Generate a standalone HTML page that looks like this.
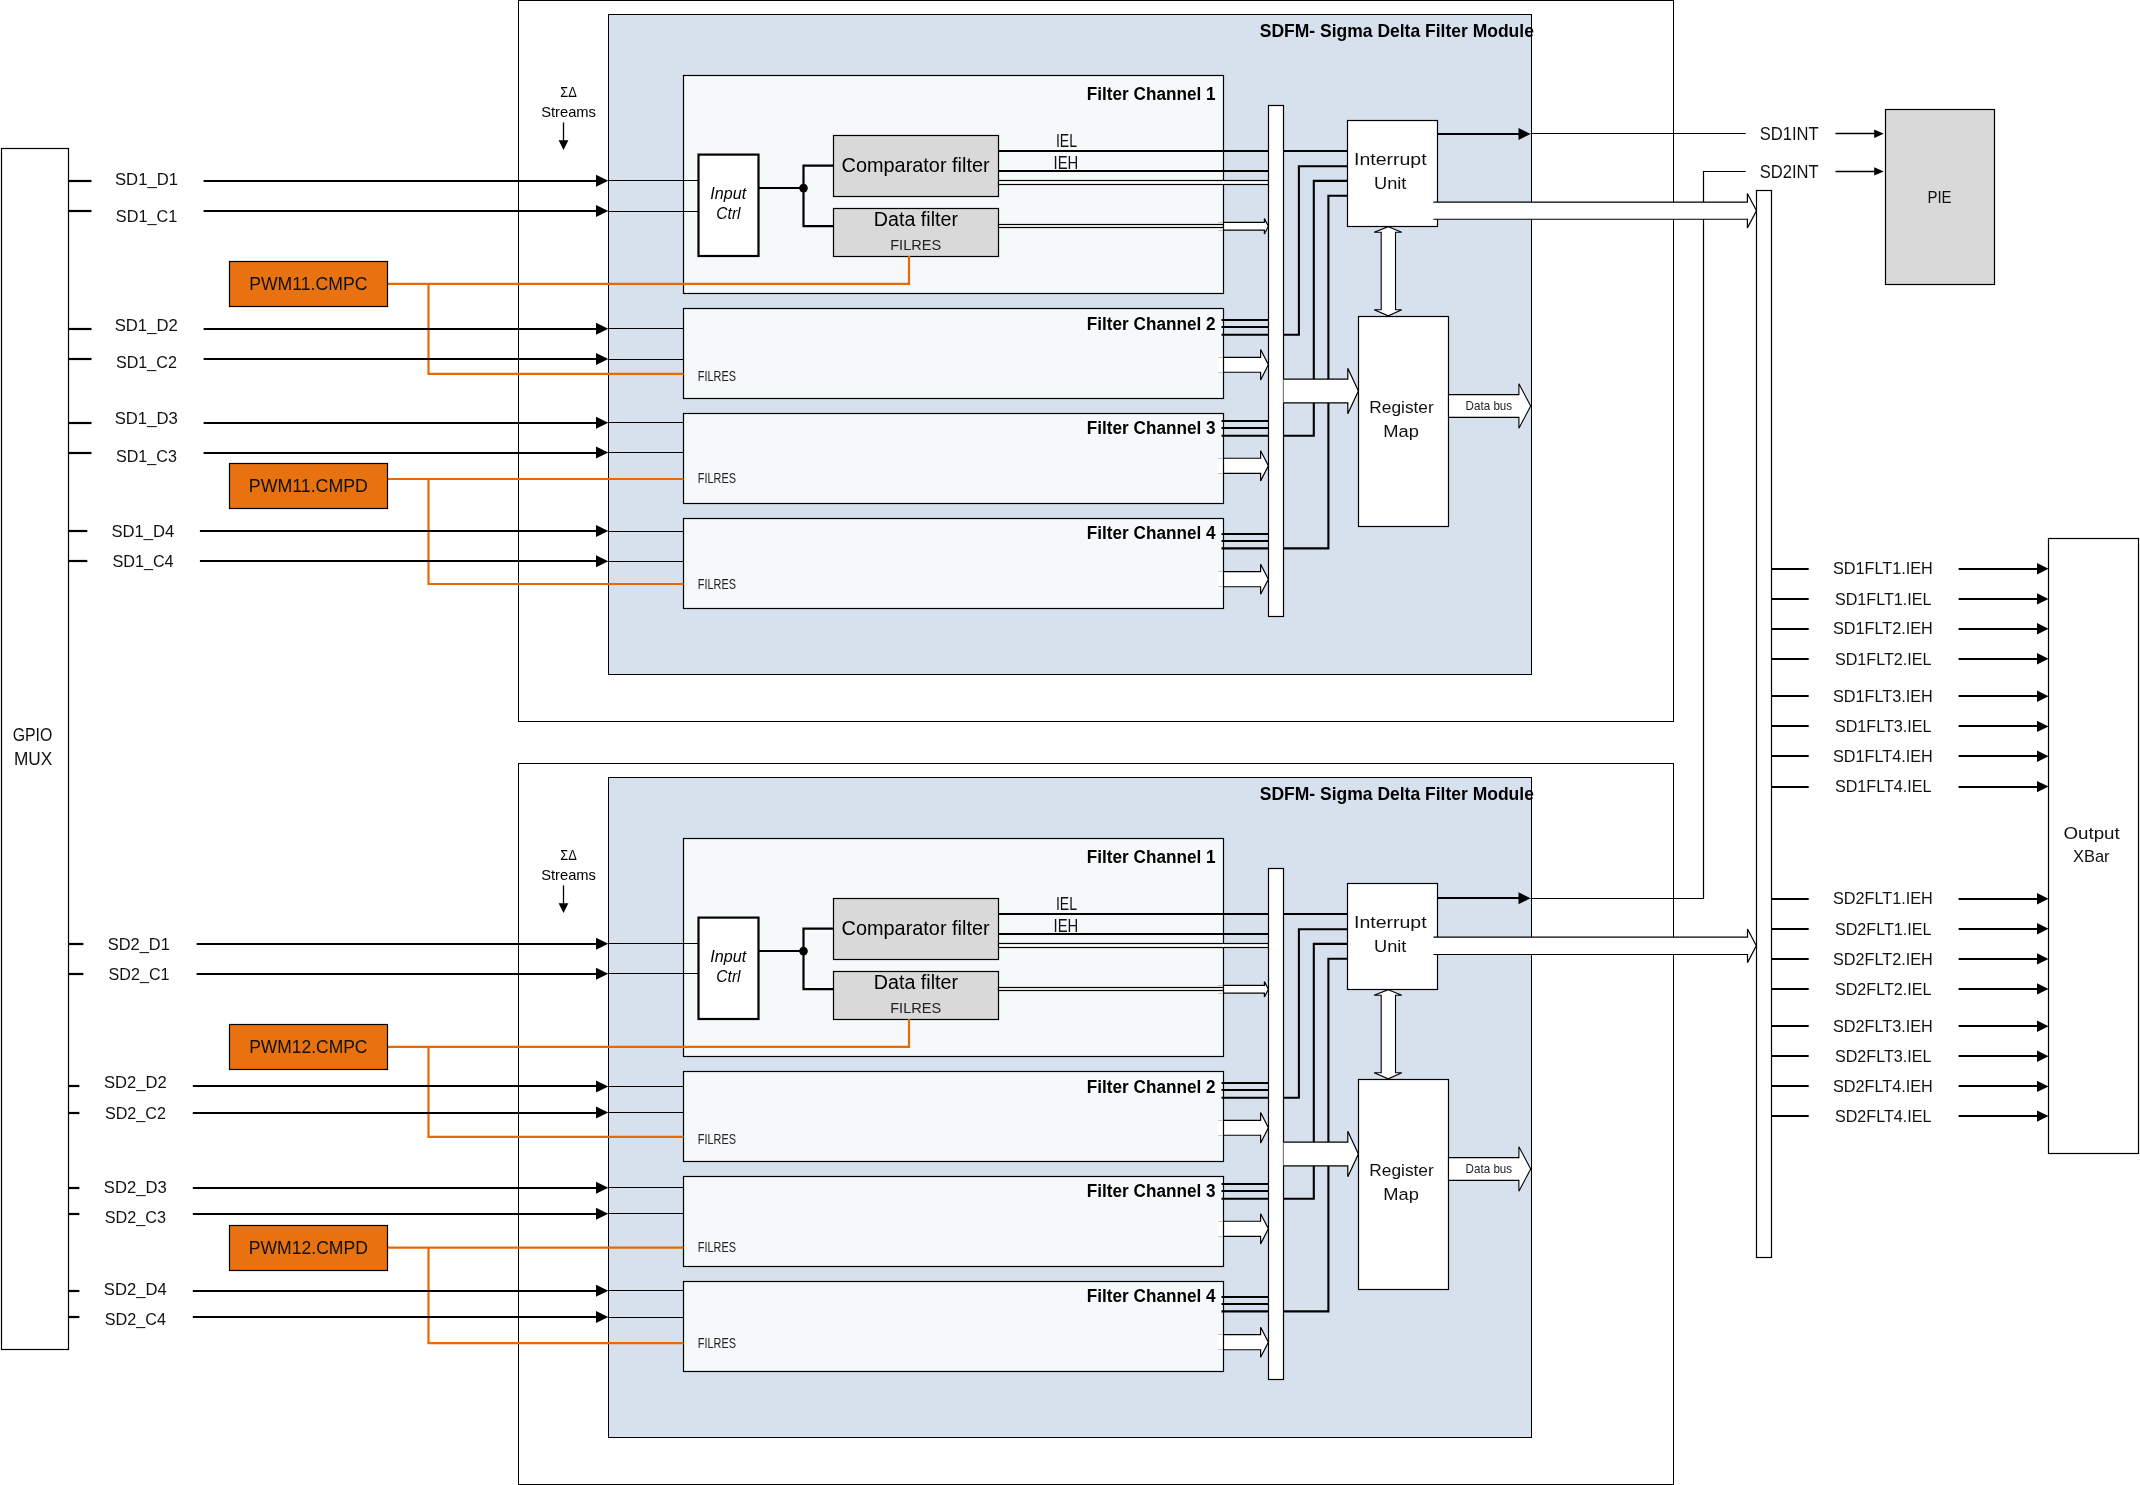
<!DOCTYPE html>
<html><head><meta charset="utf-8"><style>
html,body{margin:0;padding:0;background:#fff;}
svg{display:block;font-family:"Liberation Sans",sans-serif;will-change:transform;}
</style></head><body>
<svg width="2140" height="1485" viewBox="0 0 2140 1485">
<rect x="0" y="0" width="2140" height="1485" fill="#fff"/>
<rect x="518.5" y="0.5" width="1155" height="721" fill="none" stroke="#000" stroke-width="1"/>
<rect x="608.5" y="14.5" width="923" height="660" fill="#D6E1ED" stroke="#000" stroke-width="1"/>
<text transform="translate(1259.8 37) scale(0.9291 1)" font-size="18.84" font-weight="bold" fill="#000">SDFM- Sigma Delta Filter Module</text>
<text transform="translate(560.3 96.7) scale(0.9229 1)" font-size="13.91" fill="#000">ΣΔ</text>
<text transform="translate(541.2 117) scale(0.9952 1)" font-size="14.78" fill="#000">Streams</text>
<line x1="563.5" y1="122.4" x2="563.5" y2="141" stroke="#000" stroke-width="1.3"/>
<polygon points="558.6,140.2 568.4,140.2 563.5,150" fill="#000" stroke="none" stroke-width="1"/>
<rect x="683.5" y="75.5" width="540" height="218" fill="#F5F9FA" stroke="none" stroke-width="1"/>
<rect x="683.5" y="308.5" width="540" height="90" fill="#F5F9FA" stroke="none" stroke-width="1"/>
<rect x="683.5" y="413.5" width="540" height="90" fill="#F5F9FA" stroke="none" stroke-width="1"/>
<rect x="683.5" y="518.5" width="540" height="90" fill="#F5F9FA" stroke="none" stroke-width="1"/>
<rect x="698.5" y="154.6" width="60" height="101.4" fill="#fff" stroke="#000" stroke-width="2.2"/>
<text transform="translate(710.3 199.2) scale(1.0103 1)" font-size="15.94" font-style="italic" fill="#000">Input</text>
<text transform="translate(716.3 219.2) scale(0.9806 1)" font-size="15.94" font-style="italic" fill="#000">Ctrl</text>
<line x1="758.5" y1="188" x2="803.5" y2="188" stroke="#000" stroke-width="2.2"/>
<polyline points="833.5,165.7 803.5,165.7 803.5,226.2 833.5,226.2" fill="none" stroke="#000" stroke-width="2.2"/>
<circle cx="803.5" cy="188.1" r="4.3" fill="#000"/>
<rect x="833.5" y="135.5" width="165" height="61" fill="#D9D9D9" stroke="#000" stroke-width="1.2"/>
<text transform="translate(841.6 171.7) scale(0.9940 1)" font-size="20" fill="#000">Comparator filter</text>
<rect x="833.5" y="208.5" width="165" height="48" fill="#D9D9D9" stroke="#000" stroke-width="1.2"/>
<text transform="translate(873.8 226.2) scale(0.9981 1)" font-size="19.71" fill="#000">Data filter</text>
<text transform="translate(890.2 250) scale(0.9668 1)" font-size="15.07" fill="#222">FILRES</text>
<line x1="998.5" y1="151" x2="1347.5" y2="151" stroke="#000" stroke-width="2.1"/>
<text transform="translate(1055.9 147) scale(0.7827 1)" font-size="17.97" fill="#111">IEL</text>
<line x1="998.5" y1="171" x2="1268.4" y2="171" stroke="#000" stroke-width="2"/>
<text transform="translate(1053.6 169.3) scale(0.8255 1)" font-size="17.97" fill="#111">IEH</text>
<rect x="998.5" y="180.5" width="270" height="4" fill="#fff" stroke="#000" stroke-width="1.2"/>
<rect x="998.5" y="224.5" width="225" height="3" fill="#fff" stroke="#000" stroke-width="1.2"/>
<polygon points="1223.5,222.45 1264.4,222.45 1264.4,218.65 1268.4,226.3 1264.4,233.95 1264.4,230.15 1223.5,230.15" fill="#fff" stroke="none" stroke-width="1"/>
<polyline points="1223.5,222.45 1264.4,222.45 1264.4,218.65 1268.4,226.3 1264.4,233.95 1264.4,230.15 1223.5,230.15" fill="none" stroke="#000" stroke-width="1.2"/>
<line x1="1218" y1="222.5" x2="1223" y2="222.5" stroke="#C8C8C8" stroke-width="1"/>
<line x1="1218" y1="230.5" x2="1223" y2="230.5" stroke="#C8C8C8" stroke-width="1"/>
<polygon points="1223.5,357.35 1260.6,357.35 1260.6,349.55 1268.4,364.8 1260.6,380.05 1260.6,372.25 1223.5,372.25" fill="#fff" stroke="none" stroke-width="1"/>
<polyline points="1223.5,357.35 1260.6,357.35 1260.6,349.55 1268.4,364.8 1260.6,380.05 1260.6,372.25 1223.5,372.25" fill="none" stroke="#000" stroke-width="1.2"/>
<rect x="1218" y="357.35" width="5.5" height="14.9" fill="#fff" stroke="none" stroke-width="0"/>
<line x1="1218" y1="357.5" x2="1223" y2="357.5" stroke="#C8C8C8" stroke-width="1"/>
<line x1="1218" y1="372.5" x2="1223" y2="372.5" stroke="#C8C8C8" stroke-width="1"/>
<polygon points="1223.5,458.25 1260.6,458.25 1260.6,450.7 1268.4,465.8 1260.6,480.9 1260.6,473.35 1223.5,473.35" fill="#fff" stroke="none" stroke-width="1"/>
<polyline points="1223.5,458.25 1260.6,458.25 1260.6,450.7 1268.4,465.8 1260.6,480.9 1260.6,473.35 1223.5,473.35" fill="none" stroke="#000" stroke-width="1.2"/>
<rect x="1218" y="458.25" width="5.5" height="15.1" fill="#fff" stroke="none" stroke-width="0"/>
<line x1="1218" y1="458.5" x2="1223" y2="458.5" stroke="#C8C8C8" stroke-width="1"/>
<line x1="1218" y1="473.5" x2="1223" y2="473.5" stroke="#C8C8C8" stroke-width="1"/>
<polygon points="1223.5,571.65 1260.6,571.65 1260.6,564.2 1268.4,579.2 1260.6,594.2 1260.6,586.75 1223.5,586.75" fill="#fff" stroke="none" stroke-width="1"/>
<polyline points="1223.5,571.65 1260.6,571.65 1260.6,564.2 1268.4,579.2 1260.6,594.2 1260.6,586.75 1223.5,586.75" fill="none" stroke="#000" stroke-width="1.2"/>
<rect x="1218" y="571.65" width="5.5" height="15.1" fill="#fff" stroke="none" stroke-width="0"/>
<line x1="1218" y1="571.5" x2="1223" y2="571.5" stroke="#C8C8C8" stroke-width="1"/>
<line x1="1218" y1="586.5" x2="1223" y2="586.5" stroke="#C8C8C8" stroke-width="1"/>
<line x1="1221.5" y1="320" x2="1268.4" y2="320" stroke="#000" stroke-width="2.1"/>
<line x1="1221.5" y1="327" x2="1268.4" y2="327" stroke="#000" stroke-width="2.1"/>
<polyline points="1221.5,334.7 1298.9,334.7 1298.9,166.3 1347.5,166.3" fill="none" stroke="#000" stroke-width="2.1"/>
<line x1="1221.5" y1="421" x2="1268.4" y2="421" stroke="#000" stroke-width="2.1"/>
<line x1="1221.5" y1="428" x2="1268.4" y2="428" stroke="#000" stroke-width="2.1"/>
<polyline points="1221.5,435.8 1313.8,435.8 1313.8,180.9 1347.5,180.9" fill="none" stroke="#000" stroke-width="2.1"/>
<line x1="1221.5" y1="534" x2="1268.4" y2="534" stroke="#000" stroke-width="2.1"/>
<line x1="1221.5" y1="541" x2="1268.4" y2="541" stroke="#000" stroke-width="2.1"/>
<polyline points="1221.5,548.4 1328.4,548.4 1328.4,195.7 1347.5,195.7" fill="none" stroke="#000" stroke-width="2.1"/>
<rect x="683.5" y="75.5" width="540" height="218" fill="none" stroke="#000" stroke-width="1.2"/>
<rect x="683.5" y="308.5" width="540" height="90" fill="none" stroke="#000" stroke-width="1.2"/>
<rect x="683.5" y="413.5" width="540" height="90" fill="none" stroke="#000" stroke-width="1.2"/>
<rect x="683.5" y="518.5" width="540" height="90" fill="none" stroke="#000" stroke-width="1.2"/>
<rect x="1222.5" y="181" width="2" height="3" fill="#fff" stroke="none" stroke-width="0"/>
<text transform="translate(1086.8 100.2) scale(0.9404 1)" font-size="18.26" font-weight="bold" fill="#000">Filter Channel 1</text>
<text transform="translate(1086.8 329.7) scale(0.9404 1)" font-size="18.26" font-weight="bold" fill="#000">Filter Channel 2</text>
<text transform="translate(1086.8 434) scale(0.9404 1)" font-size="18.26" font-weight="bold" fill="#000">Filter Channel 3</text>
<text transform="translate(1086.8 539.3) scale(0.9404 1)" font-size="18.26" font-weight="bold" fill="#000">Filter Channel 4</text>
<text transform="translate(697.8 380.9) scale(0.7685 1)" font-size="14.2" fill="#222">FILRES</text>
<text transform="translate(697.8 482.9) scale(0.7685 1)" font-size="14.2" fill="#222">FILRES</text>
<text transform="translate(697.8 589.4) scale(0.7685 1)" font-size="14.2" fill="#222">FILRES</text>
<polyline points="387.6,283.9 909,283.9 909,256.1" fill="none" stroke="#E96800" stroke-width="2.2"/>
<polyline points="428.5,283.9 428.5,373.8 683.5,373.8" fill="none" stroke="#E96800" stroke-width="2.2"/>
<polyline points="387.6,479 683.5,479" fill="none" stroke="#E96800" stroke-width="2.2"/>
<polyline points="428.5,479 428.5,584 683.5,584" fill="none" stroke="#E96800" stroke-width="2.2"/>
<rect x="1268.5" y="105.5" width="15" height="511" fill="#fff" stroke="#000" stroke-width="1.2"/>
<rect x="1347.5" y="120.5" width="90" height="106" fill="#fff" stroke="#000" stroke-width="1.2"/>
<text transform="translate(1354 165.4) scale(1.1222 1)" font-size="17.39" fill="#111">Interrupt</text>
<text transform="translate(1374 189) scale(1.0499 1)" font-size="17.39" fill="#111">Unit</text>
<line x1="1437.6" y1="134" x2="1519.5" y2="134" stroke="#000" stroke-width="2.2"/>
<polygon points="1518.5,128.1 1530.5,134.1 1518.5,140.1" fill="#000" stroke="none" stroke-width="1"/>
<polygon points="1388.3,226.7 1401.8,232.3 1395.5,232.3 1395.5,309.7 1401.8,309.7 1388.3,315.8 1374.1,309.7 1381.2,309.7 1381.2,232.3 1374.1,232.3" fill="#fff" stroke="#000" stroke-width="1.1"/>
<polygon points="1283.5,379.1 1347.8,379.1 1347.8,368.3 1358.4,391 1347.8,413.7 1347.8,402.9 1283.5,402.9" fill="#fff" stroke="none" stroke-width="1"/>
<polyline points="1283.5,379.1 1347.8,379.1 1347.8,368.3 1358.4,391 1347.8,413.7 1347.8,402.9 1283.5,402.9" fill="none" stroke="#000" stroke-width="1.2"/>
<rect x="1358.5" y="316.5" width="90" height="210" fill="#fff" stroke="#000" stroke-width="1.2"/>
<text transform="translate(1369.3 412.9) scale(0.9956 1)" font-size="17.39" fill="#111">Register</text>
<text transform="translate(1383.3 437.1) scale(1.0524 1)" font-size="17.39" fill="#111">Map</text>
<polygon points="1448.5,394.6 1518.9,394.6 1518.9,383.8 1530.7,406 1518.9,428.2 1518.9,417.4 1448.5,417.4" fill="#fff" stroke="#000" stroke-width="1.1"/>
<text transform="translate(1465.6 410) scale(0.9335 1)" font-size="12.46" fill="#222">Data bus</text>
<rect x="518.5" y="763.5" width="1155" height="721" fill="none" stroke="#000" stroke-width="1"/>
<rect x="608.5" y="777.5" width="923" height="660" fill="#D6E1ED" stroke="#000" stroke-width="1"/>
<text transform="translate(1259.8 800) scale(0.9291 1)" font-size="18.84" font-weight="bold" fill="#000">SDFM- Sigma Delta Filter Module</text>
<text transform="translate(560.3 859.7) scale(0.9229 1)" font-size="13.91" fill="#000">ΣΔ</text>
<text transform="translate(541.2 880) scale(0.9952 1)" font-size="14.78" fill="#000">Streams</text>
<line x1="563.5" y1="885.4" x2="563.5" y2="904" stroke="#000" stroke-width="1.3"/>
<polygon points="558.6,903.2 568.4,903.2 563.5,913" fill="#000" stroke="none" stroke-width="1"/>
<rect x="683.5" y="838.5" width="540" height="218" fill="#F5F9FA" stroke="none" stroke-width="1"/>
<rect x="683.5" y="1071.5" width="540" height="90" fill="#F5F9FA" stroke="none" stroke-width="1"/>
<rect x="683.5" y="1176.5" width="540" height="90" fill="#F5F9FA" stroke="none" stroke-width="1"/>
<rect x="683.5" y="1281.5" width="540" height="90" fill="#F5F9FA" stroke="none" stroke-width="1"/>
<rect x="698.5" y="917.6" width="60" height="101.4" fill="#fff" stroke="#000" stroke-width="2.2"/>
<text transform="translate(710.3 962.2) scale(1.0103 1)" font-size="15.94" font-style="italic" fill="#000">Input</text>
<text transform="translate(716.3 982.2) scale(0.9806 1)" font-size="15.94" font-style="italic" fill="#000">Ctrl</text>
<line x1="758.5" y1="951" x2="803.5" y2="951" stroke="#000" stroke-width="2.2"/>
<polyline points="833.5,928.7 803.5,928.7 803.5,989.2 833.5,989.2" fill="none" stroke="#000" stroke-width="2.2"/>
<circle cx="803.5" cy="951.1" r="4.3" fill="#000"/>
<rect x="833.5" y="898.5" width="165" height="61" fill="#D9D9D9" stroke="#000" stroke-width="1.2"/>
<text transform="translate(841.6 934.7) scale(0.9940 1)" font-size="20" fill="#000">Comparator filter</text>
<rect x="833.5" y="971.5" width="165" height="48" fill="#D9D9D9" stroke="#000" stroke-width="1.2"/>
<text transform="translate(873.8 989.2) scale(0.9981 1)" font-size="19.71" fill="#000">Data filter</text>
<text transform="translate(890.2 1013) scale(0.9668 1)" font-size="15.07" fill="#222">FILRES</text>
<line x1="998.5" y1="914" x2="1347.5" y2="914" stroke="#000" stroke-width="2.1"/>
<text transform="translate(1055.9 910) scale(0.7827 1)" font-size="17.97" fill="#111">IEL</text>
<line x1="998.5" y1="934" x2="1268.4" y2="934" stroke="#000" stroke-width="2"/>
<text transform="translate(1053.6 932.3) scale(0.8255 1)" font-size="17.97" fill="#111">IEH</text>
<rect x="998.5" y="943.5" width="270" height="4" fill="#fff" stroke="#000" stroke-width="1.2"/>
<rect x="998.5" y="987.5" width="225" height="3" fill="#fff" stroke="#000" stroke-width="1.2"/>
<polygon points="1223.5,985.45 1264.4,985.45 1264.4,981.65 1268.4,989.3 1264.4,996.95 1264.4,993.15 1223.5,993.15" fill="#fff" stroke="none" stroke-width="1"/>
<polyline points="1223.5,985.45 1264.4,985.45 1264.4,981.65 1268.4,989.3 1264.4,996.95 1264.4,993.15 1223.5,993.15" fill="none" stroke="#000" stroke-width="1.2"/>
<line x1="1218" y1="985.5" x2="1223" y2="985.5" stroke="#C8C8C8" stroke-width="1"/>
<line x1="1218" y1="993.5" x2="1223" y2="993.5" stroke="#C8C8C8" stroke-width="1"/>
<polygon points="1223.5,1120.35 1260.6,1120.35 1260.6,1112.55 1268.4,1127.8 1260.6,1143.05 1260.6,1135.25 1223.5,1135.25" fill="#fff" stroke="none" stroke-width="1"/>
<polyline points="1223.5,1120.35 1260.6,1120.35 1260.6,1112.55 1268.4,1127.8 1260.6,1143.05 1260.6,1135.25 1223.5,1135.25" fill="none" stroke="#000" stroke-width="1.2"/>
<rect x="1218" y="1120.35" width="5.5" height="14.9" fill="#fff" stroke="none" stroke-width="0"/>
<line x1="1218" y1="1120.5" x2="1223" y2="1120.5" stroke="#C8C8C8" stroke-width="1"/>
<line x1="1218" y1="1135.5" x2="1223" y2="1135.5" stroke="#C8C8C8" stroke-width="1"/>
<polygon points="1223.5,1221.25 1260.6,1221.25 1260.6,1213.7 1268.4,1228.8 1260.6,1243.9 1260.6,1236.35 1223.5,1236.35" fill="#fff" stroke="none" stroke-width="1"/>
<polyline points="1223.5,1221.25 1260.6,1221.25 1260.6,1213.7 1268.4,1228.8 1260.6,1243.9 1260.6,1236.35 1223.5,1236.35" fill="none" stroke="#000" stroke-width="1.2"/>
<rect x="1218" y="1221.25" width="5.5" height="15.1" fill="#fff" stroke="none" stroke-width="0"/>
<line x1="1218" y1="1221.5" x2="1223" y2="1221.5" stroke="#C8C8C8" stroke-width="1"/>
<line x1="1218" y1="1236.5" x2="1223" y2="1236.5" stroke="#C8C8C8" stroke-width="1"/>
<polygon points="1223.5,1334.65 1260.6,1334.65 1260.6,1327.2 1268.4,1342.2 1260.6,1357.2 1260.6,1349.75 1223.5,1349.75" fill="#fff" stroke="none" stroke-width="1"/>
<polyline points="1223.5,1334.65 1260.6,1334.65 1260.6,1327.2 1268.4,1342.2 1260.6,1357.2 1260.6,1349.75 1223.5,1349.75" fill="none" stroke="#000" stroke-width="1.2"/>
<rect x="1218" y="1334.65" width="5.5" height="15.1" fill="#fff" stroke="none" stroke-width="0"/>
<line x1="1218" y1="1334.5" x2="1223" y2="1334.5" stroke="#C8C8C8" stroke-width="1"/>
<line x1="1218" y1="1349.5" x2="1223" y2="1349.5" stroke="#C8C8C8" stroke-width="1"/>
<line x1="1221.5" y1="1083" x2="1268.4" y2="1083" stroke="#000" stroke-width="2.1"/>
<line x1="1221.5" y1="1090" x2="1268.4" y2="1090" stroke="#000" stroke-width="2.1"/>
<polyline points="1221.5,1097.7 1298.9,1097.7 1298.9,929.3 1347.5,929.3" fill="none" stroke="#000" stroke-width="2.1"/>
<line x1="1221.5" y1="1184" x2="1268.4" y2="1184" stroke="#000" stroke-width="2.1"/>
<line x1="1221.5" y1="1191" x2="1268.4" y2="1191" stroke="#000" stroke-width="2.1"/>
<polyline points="1221.5,1198.8 1313.8,1198.8 1313.8,943.9 1347.5,943.9" fill="none" stroke="#000" stroke-width="2.1"/>
<line x1="1221.5" y1="1297" x2="1268.4" y2="1297" stroke="#000" stroke-width="2.1"/>
<line x1="1221.5" y1="1304" x2="1268.4" y2="1304" stroke="#000" stroke-width="2.1"/>
<polyline points="1221.5,1311.4 1328.4,1311.4 1328.4,958.7 1347.5,958.7" fill="none" stroke="#000" stroke-width="2.1"/>
<rect x="683.5" y="838.5" width="540" height="218" fill="none" stroke="#000" stroke-width="1.2"/>
<rect x="683.5" y="1071.5" width="540" height="90" fill="none" stroke="#000" stroke-width="1.2"/>
<rect x="683.5" y="1176.5" width="540" height="90" fill="none" stroke="#000" stroke-width="1.2"/>
<rect x="683.5" y="1281.5" width="540" height="90" fill="none" stroke="#000" stroke-width="1.2"/>
<rect x="1222.5" y="944" width="2" height="3" fill="#fff" stroke="none" stroke-width="0"/>
<text transform="translate(1086.8 863.2) scale(0.9404 1)" font-size="18.26" font-weight="bold" fill="#000">Filter Channel 1</text>
<text transform="translate(1086.8 1092.7) scale(0.9404 1)" font-size="18.26" font-weight="bold" fill="#000">Filter Channel 2</text>
<text transform="translate(1086.8 1197) scale(0.9404 1)" font-size="18.26" font-weight="bold" fill="#000">Filter Channel 3</text>
<text transform="translate(1086.8 1302.3) scale(0.9404 1)" font-size="18.26" font-weight="bold" fill="#000">Filter Channel 4</text>
<text transform="translate(697.8 1144) scale(0.7685 1)" font-size="14.2" fill="#222">FILRES</text>
<text transform="translate(697.8 1252.1) scale(0.7685 1)" font-size="14.2" fill="#222">FILRES</text>
<text transform="translate(697.8 1348.4) scale(0.7685 1)" font-size="14.2" fill="#222">FILRES</text>
<polyline points="387.6,1046.9 909,1046.9 909,1019.1" fill="none" stroke="#E96800" stroke-width="2.2"/>
<polyline points="428.5,1046.9 428.5,1136.9 683.5,1136.9" fill="none" stroke="#E96800" stroke-width="2.2"/>
<polyline points="387.6,1247.6 683.5,1247.6" fill="none" stroke="#E96800" stroke-width="2.2"/>
<polyline points="428.5,1247.6 428.5,1343.2 683.5,1343.2" fill="none" stroke="#E96800" stroke-width="2.2"/>
<rect x="1268.5" y="868.5" width="15" height="511" fill="#fff" stroke="#000" stroke-width="1.2"/>
<rect x="1347.5" y="883.5" width="90" height="106" fill="#fff" stroke="#000" stroke-width="1.2"/>
<text transform="translate(1354 928.4) scale(1.1222 1)" font-size="17.39" fill="#111">Interrupt</text>
<text transform="translate(1374 952) scale(1.0499 1)" font-size="17.39" fill="#111">Unit</text>
<line x1="1437.6" y1="898" x2="1519.5" y2="898" stroke="#000" stroke-width="2.2"/>
<polygon points="1518.5,892.3 1530.5,898.3 1518.5,904.3" fill="#000" stroke="none" stroke-width="1"/>
<polygon points="1388.3,989.7 1401.8,995.3 1395.5,995.3 1395.5,1072.7 1401.8,1072.7 1388.3,1078.8 1374.1,1072.7 1381.2,1072.7 1381.2,995.3 1374.1,995.3" fill="#fff" stroke="#000" stroke-width="1.1"/>
<polygon points="1283.5,1142.1 1347.8,1142.1 1347.8,1131.3 1358.4,1154 1347.8,1176.7 1347.8,1165.9 1283.5,1165.9" fill="#fff" stroke="none" stroke-width="1"/>
<polyline points="1283.5,1142.1 1347.8,1142.1 1347.8,1131.3 1358.4,1154 1347.8,1176.7 1347.8,1165.9 1283.5,1165.9" fill="none" stroke="#000" stroke-width="1.2"/>
<rect x="1358.5" y="1079.5" width="90" height="210" fill="#fff" stroke="#000" stroke-width="1.2"/>
<text transform="translate(1369.3 1175.9) scale(0.9956 1)" font-size="17.39" fill="#111">Register</text>
<text transform="translate(1383.3 1200.1) scale(1.0524 1)" font-size="17.39" fill="#111">Map</text>
<polygon points="1448.5,1157.6 1518.9,1157.6 1518.9,1146.8 1530.7,1169 1518.9,1191.2 1518.9,1180.4 1448.5,1180.4" fill="#fff" stroke="#000" stroke-width="1.1"/>
<text transform="translate(1465.6 1173) scale(0.9335 1)" font-size="12.46" fill="#222">Data bus</text>
<rect x="1.5" y="148.5" width="67" height="1201" fill="#fff" stroke="#000" stroke-width="1.2"/>
<text transform="translate(12.7 740.9) scale(0.8814 1)" font-size="17.97" fill="#111">GPIO</text>
<text transform="translate(13.9 764.8) scale(0.9600 1)" font-size="17.97" fill="#111">MUX</text>
<line x1="68.5" y1="181" x2="91.5" y2="181" stroke="#000" stroke-width="2.2"/>
<text transform="translate(115 184.7) scale(0.9583 1)" font-size="17.39" fill="#111">SD1_D1</text>
<line x1="203.6" y1="181" x2="597" y2="181" stroke="#000" stroke-width="2.2"/>
<polygon points="596,174.7 608.3,180.7 596,186.7" fill="#000" stroke="none" stroke-width="1"/>
<line x1="608.3" y1="180.5" x2="698.5" y2="180.5" stroke="#000" stroke-width="1.1"/>
<line x1="68.5" y1="211" x2="91.5" y2="211" stroke="#000" stroke-width="2.2"/>
<text transform="translate(115.8 222.1) scale(0.9355 1)" font-size="17.39" fill="#111">SD1_C1</text>
<line x1="203.6" y1="211" x2="597" y2="211" stroke="#000" stroke-width="2.2"/>
<polygon points="596,205 608.3,211 596,217" fill="#000" stroke="none" stroke-width="1"/>
<line x1="608.3" y1="211.5" x2="698.5" y2="211.5" stroke="#000" stroke-width="1.1"/>
<line x1="68.5" y1="329" x2="91.5" y2="329" stroke="#000" stroke-width="2.2"/>
<text transform="translate(114.7 330.5) scale(0.9599 1)" font-size="17.39" fill="#111">SD1_D2</text>
<line x1="203.6" y1="329" x2="597" y2="329" stroke="#000" stroke-width="2.2"/>
<polygon points="596,322.7 608.3,328.7 596,334.7" fill="#000" stroke="none" stroke-width="1"/>
<line x1="608.3" y1="328.5" x2="683.5" y2="328.5" stroke="#000" stroke-width="1.1"/>
<line x1="68.5" y1="359" x2="91.5" y2="359" stroke="#000" stroke-width="2.2"/>
<text transform="translate(116 367.9) scale(0.9264 1)" font-size="17.39" fill="#111">SD1_C2</text>
<line x1="203.6" y1="359" x2="597" y2="359" stroke="#000" stroke-width="2.2"/>
<polygon points="596,353 608.3,359 596,365" fill="#000" stroke="none" stroke-width="1"/>
<line x1="608.3" y1="359.5" x2="683.5" y2="359.5" stroke="#000" stroke-width="1.1"/>
<line x1="68.5" y1="423" x2="91.5" y2="423" stroke="#000" stroke-width="2.2"/>
<text transform="translate(114.7 424.4) scale(0.9599 1)" font-size="17.39" fill="#111">SD1_D3</text>
<line x1="203.6" y1="423" x2="597" y2="423" stroke="#000" stroke-width="2.2"/>
<polygon points="596,416.7 608.3,422.7 596,428.7" fill="#000" stroke="none" stroke-width="1"/>
<line x1="608.3" y1="422.5" x2="683.5" y2="422.5" stroke="#000" stroke-width="1.1"/>
<line x1="68.5" y1="453" x2="91.5" y2="453" stroke="#000" stroke-width="2.2"/>
<text transform="translate(116 461.7) scale(0.9264 1)" font-size="17.39" fill="#111">SD1_C3</text>
<line x1="203.6" y1="453" x2="597" y2="453" stroke="#000" stroke-width="2.2"/>
<polygon points="596,446.6 608.3,452.6 596,458.6" fill="#000" stroke="none" stroke-width="1"/>
<line x1="608.3" y1="452.5" x2="683.5" y2="452.5" stroke="#000" stroke-width="1.1"/>
<line x1="68.5" y1="531" x2="87.3" y2="531" stroke="#000" stroke-width="2.2"/>
<text transform="translate(111.5 536.6) scale(0.9568 1)" font-size="17.39" fill="#111">SD1_D4</text>
<line x1="199.9" y1="531" x2="597" y2="531" stroke="#000" stroke-width="2.2"/>
<polygon points="596,525 608.3,531 596,537" fill="#000" stroke="none" stroke-width="1"/>
<line x1="608.3" y1="531.5" x2="683.5" y2="531.5" stroke="#000" stroke-width="1.1"/>
<line x1="68.5" y1="561" x2="87.3" y2="561" stroke="#000" stroke-width="2.2"/>
<text transform="translate(112.4 566.7) scale(0.9325 1)" font-size="17.39" fill="#111">SD1_C4</text>
<line x1="199.9" y1="561" x2="597" y2="561" stroke="#000" stroke-width="2.2"/>
<polygon points="596,555.3 608.3,561.3 596,567.3" fill="#000" stroke="none" stroke-width="1"/>
<line x1="608.3" y1="561.5" x2="683.5" y2="561.5" stroke="#000" stroke-width="1.1"/>
<line x1="68.5" y1="944" x2="83.4" y2="944" stroke="#000" stroke-width="2.2"/>
<text transform="translate(107.7 949.6) scale(0.9462 1)" font-size="17.39" fill="#111">SD2_D1</text>
<line x1="196.6" y1="944" x2="597" y2="944" stroke="#000" stroke-width="2.2"/>
<polygon points="596,937.7 608.3,943.7 596,949.7" fill="#000" stroke="none" stroke-width="1"/>
<line x1="608.3" y1="943.5" x2="698.5" y2="943.5" stroke="#000" stroke-width="1.1"/>
<line x1="68.5" y1="974" x2="83.4" y2="974" stroke="#000" stroke-width="2.2"/>
<text transform="translate(108.6 979.7) scale(0.9279 1)" font-size="17.39" fill="#111">SD2_C1</text>
<line x1="196.6" y1="974" x2="597" y2="974" stroke="#000" stroke-width="2.2"/>
<polygon points="596,967.8 608.3,973.8 596,979.8" fill="#000" stroke="none" stroke-width="1"/>
<line x1="608.3" y1="973.5" x2="698.5" y2="973.5" stroke="#000" stroke-width="1.1"/>
<line x1="68.5" y1="1086" x2="79.4" y2="1086" stroke="#000" stroke-width="2.2"/>
<text transform="translate(104 1088.1) scale(0.9538 1)" font-size="17.39" fill="#111">SD2_D2</text>
<line x1="192.8" y1="1086" x2="597" y2="1086" stroke="#000" stroke-width="2.2"/>
<polygon points="596,1080.4 608.3,1086.4 596,1092.4" fill="#000" stroke="none" stroke-width="1"/>
<line x1="608.3" y1="1086.5" x2="683.5" y2="1086.5" stroke="#000" stroke-width="1.1"/>
<line x1="68.5" y1="1113" x2="79.4" y2="1113" stroke="#000" stroke-width="2.2"/>
<text transform="translate(104.9 1118.5) scale(0.9279 1)" font-size="17.39" fill="#111">SD2_C2</text>
<line x1="192.8" y1="1113" x2="597" y2="1113" stroke="#000" stroke-width="2.2"/>
<polygon points="596,1106.6 608.3,1112.6 596,1118.6" fill="#000" stroke="none" stroke-width="1"/>
<line x1="608.3" y1="1112.5" x2="683.5" y2="1112.5" stroke="#000" stroke-width="1.1"/>
<line x1="68.5" y1="1188" x2="79.4" y2="1188" stroke="#000" stroke-width="2.2"/>
<text transform="translate(103.8 1193.4) scale(0.9568 1)" font-size="17.39" fill="#111">SD2_D3</text>
<line x1="192.8" y1="1188" x2="597" y2="1188" stroke="#000" stroke-width="2.2"/>
<polygon points="596,1181.8 608.3,1187.8 596,1193.8" fill="#000" stroke="none" stroke-width="1"/>
<line x1="608.3" y1="1187.5" x2="683.5" y2="1187.5" stroke="#000" stroke-width="1.1"/>
<line x1="68.5" y1="1214" x2="79.4" y2="1214" stroke="#000" stroke-width="2.2"/>
<text transform="translate(104.7 1223.3) scale(0.9325 1)" font-size="17.39" fill="#111">SD2_C3</text>
<line x1="192.8" y1="1214" x2="597" y2="1214" stroke="#000" stroke-width="2.2"/>
<polygon points="596,1207.8 608.3,1213.8 596,1219.8" fill="#000" stroke="none" stroke-width="1"/>
<line x1="608.3" y1="1213.5" x2="683.5" y2="1213.5" stroke="#000" stroke-width="1.1"/>
<line x1="68.5" y1="1291" x2="79.4" y2="1291" stroke="#000" stroke-width="2.2"/>
<text transform="translate(103.8 1294.7) scale(0.9568 1)" font-size="17.39" fill="#111">SD2_D4</text>
<line x1="192.8" y1="1291" x2="597" y2="1291" stroke="#000" stroke-width="2.2"/>
<polygon points="596,1284.8 608.3,1290.8 596,1296.8" fill="#000" stroke="none" stroke-width="1"/>
<line x1="608.3" y1="1290.5" x2="683.5" y2="1290.5" stroke="#000" stroke-width="1.1"/>
<line x1="68.5" y1="1317" x2="79.4" y2="1317" stroke="#000" stroke-width="2.2"/>
<text transform="translate(104.7 1324.6) scale(0.9325 1)" font-size="17.39" fill="#111">SD2_C4</text>
<line x1="192.8" y1="1317" x2="597" y2="1317" stroke="#000" stroke-width="2.2"/>
<polygon points="596,1311 608.3,1317 596,1323" fill="#000" stroke="none" stroke-width="1"/>
<line x1="608.3" y1="1317.5" x2="683.5" y2="1317.5" stroke="#000" stroke-width="1.1"/>
<rect x="229.5" y="261.5" width="158" height="45" fill="#E8720F" stroke="#000" stroke-width="1.2"/>
<text transform="translate(249.2 289.8) scale(0.9818 1)" font-size="17.97" fill="#111">PWM11.CMPC</text>
<rect x="229.5" y="463.5" width="158" height="45" fill="#E8720F" stroke="#000" stroke-width="1.2"/>
<text transform="translate(248.8 491.9) scale(0.9892 1)" font-size="17.97" fill="#111">PWM11.CMPD</text>
<rect x="229.5" y="1024.5" width="158" height="45" fill="#E8720F" stroke="#000" stroke-width="1.2"/>
<text transform="translate(249.2 1052.8) scale(0.9709 1)" font-size="17.97" fill="#111">PWM12.CMPC</text>
<rect x="229.5" y="1225.5" width="158" height="45" fill="#E8720F" stroke="#000" stroke-width="1.2"/>
<text transform="translate(248.8 1253.9) scale(0.9783 1)" font-size="17.97" fill="#111">PWM12.CMPD</text>
<line x1="1530.5" y1="133.5" x2="1745.7" y2="133.5" stroke="#000" stroke-width="1.2"/>
<text transform="translate(1759.8 139.8) scale(0.9219 1)" font-size="17.97" fill="#111">SD1INT</text>
<line x1="1835.5" y1="133.5" x2="1875.2" y2="133.5" stroke="#000" stroke-width="1.3"/>
<polygon points="1874.2,129.5 1883.7,133.7 1874.2,137.9" fill="#000" stroke="none" stroke-width="1"/>
<polyline points="1530.5,898.5 1703.5,898.5 1703.5,171.5 1745.7,171.5" fill="none" stroke="#000" stroke-width="1.2"/>
<text transform="translate(1759.8 177.5) scale(0.9219 1)" font-size="17.97" fill="#111">SD2INT</text>
<line x1="1835.5" y1="171.5" x2="1875.2" y2="171.5" stroke="#000" stroke-width="1.3"/>
<polygon points="1874.2,167.2 1883.7,171.4 1874.2,175.6" fill="#000" stroke="none" stroke-width="1"/>
<rect x="1885.5" y="109.5" width="109" height="175" fill="#D9D9D9" stroke="#000" stroke-width="1.2"/>
<text transform="translate(1927.4 203.4) scale(0.8643 1)" font-size="17.39" fill="#111">PIE</text>
<polygon points="1433.4,202.15 1747.4,202.15 1747.4,193.5 1756.5,210.7 1747.4,227.9 1747.4,219.25 1433.4,219.25" fill="#fff" stroke="none" stroke-width="1"/>
<polyline points="1433.4,202.15 1747.4,202.15 1747.4,193.5 1756.5,210.7 1747.4,227.9 1747.4,219.25 1433.4,219.25" fill="none" stroke="#000" stroke-width="1.2"/>
<polygon points="1433.4,937.1 1747.5,937.1 1747.5,929 1756.3,945.8 1747.5,962.6 1747.5,954.5 1433.4,954.5" fill="#fff" stroke="none" stroke-width="1"/>
<polyline points="1433.4,937.1 1747.5,937.1 1747.5,929 1756.3,945.8 1747.5,962.6 1747.5,954.5 1433.4,954.5" fill="none" stroke="#000" stroke-width="1.2"/>
<rect x="1756.5" y="190.5" width="15" height="1067" fill="#fff" stroke="#000" stroke-width="1.2"/>
<rect x="2048.5" y="538.5" width="90" height="615" fill="#fff" stroke="#000" stroke-width="1.2"/>
<text transform="translate(2063.4 838.6) scale(1.0791 1)" font-size="17.39" fill="#111">Output</text>
<text transform="translate(2072.9 862.3) scale(0.9484 1)" font-size="17.39" fill="#111">XBar</text>
<line x1="1771.4" y1="569" x2="1808.7" y2="569" stroke="#000" stroke-width="2"/>
<text transform="translate(1832.9 574.4) scale(0.9350 1)" font-size="17.39" fill="#111">SD1FLT1.IEH</text>
<line x1="1958.6" y1="569" x2="2038" y2="569" stroke="#000" stroke-width="2"/>
<polygon points="2037,563.1 2048.5,568.8 2037,574.5" fill="#000" stroke="none" stroke-width="1"/>
<line x1="1771.4" y1="599" x2="1808.7" y2="599" stroke="#000" stroke-width="2"/>
<text transform="translate(1835 604.7) scale(0.9271 1)" font-size="17.39" fill="#111">SD1FLT1.IEL</text>
<line x1="1958.6" y1="599" x2="2038" y2="599" stroke="#000" stroke-width="2"/>
<polygon points="2037,593.2 2048.5,598.9 2037,604.6" fill="#000" stroke="none" stroke-width="1"/>
<line x1="1771.4" y1="629" x2="1808.7" y2="629" stroke="#000" stroke-width="2"/>
<text transform="translate(1832.9 634.4) scale(0.9350 1)" font-size="17.39" fill="#111">SD1FLT2.IEH</text>
<line x1="1958.6" y1="629" x2="2038" y2="629" stroke="#000" stroke-width="2"/>
<polygon points="2037,623.1 2048.5,628.8 2037,634.5" fill="#000" stroke="none" stroke-width="1"/>
<line x1="1771.4" y1="659" x2="1808.7" y2="659" stroke="#000" stroke-width="2"/>
<text transform="translate(1835 664.5) scale(0.9271 1)" font-size="17.39" fill="#111">SD1FLT2.IEL</text>
<line x1="1958.6" y1="659" x2="2038" y2="659" stroke="#000" stroke-width="2"/>
<polygon points="2037,653 2048.5,658.7 2037,664.4" fill="#000" stroke="none" stroke-width="1"/>
<line x1="1771.4" y1="696" x2="1808.7" y2="696" stroke="#000" stroke-width="2"/>
<text transform="translate(1832.9 701.9) scale(0.9350 1)" font-size="17.39" fill="#111">SD1FLT3.IEH</text>
<line x1="1958.6" y1="696" x2="2038" y2="696" stroke="#000" stroke-width="2"/>
<polygon points="2037,690.6 2048.5,696.3 2037,702" fill="#000" stroke="none" stroke-width="1"/>
<line x1="1771.4" y1="726" x2="1808.7" y2="726" stroke="#000" stroke-width="2"/>
<text transform="translate(1835 732.2) scale(0.9271 1)" font-size="17.39" fill="#111">SD1FLT3.IEL</text>
<line x1="1958.6" y1="726" x2="2038" y2="726" stroke="#000" stroke-width="2"/>
<polygon points="2037,720.7 2048.5,726.4 2037,732.1" fill="#000" stroke="none" stroke-width="1"/>
<line x1="1771.4" y1="756" x2="1808.7" y2="756" stroke="#000" stroke-width="2"/>
<text transform="translate(1832.9 761.9) scale(0.9350 1)" font-size="17.39" fill="#111">SD1FLT4.IEH</text>
<line x1="1958.6" y1="756" x2="2038" y2="756" stroke="#000" stroke-width="2"/>
<polygon points="2037,750.6 2048.5,756.3 2037,762" fill="#000" stroke="none" stroke-width="1"/>
<line x1="1771.4" y1="787" x2="1808.7" y2="787" stroke="#000" stroke-width="2"/>
<text transform="translate(1835 792.4) scale(0.9271 1)" font-size="17.39" fill="#111">SD1FLT4.IEL</text>
<line x1="1958.6" y1="787" x2="2038" y2="787" stroke="#000" stroke-width="2"/>
<polygon points="2037,780.9 2048.5,786.6 2037,792.3" fill="#000" stroke="none" stroke-width="1"/>
<line x1="1771.4" y1="899" x2="1808.7" y2="899" stroke="#000" stroke-width="2"/>
<text transform="translate(1832.9 904.3) scale(0.9350 1)" font-size="17.39" fill="#111">SD2FLT1.IEH</text>
<line x1="1958.6" y1="899" x2="2038" y2="899" stroke="#000" stroke-width="2"/>
<polygon points="2037,893 2048.5,898.7 2037,904.4" fill="#000" stroke="none" stroke-width="1"/>
<line x1="1771.4" y1="929" x2="1808.7" y2="929" stroke="#000" stroke-width="2"/>
<text transform="translate(1835 934.6) scale(0.9271 1)" font-size="17.39" fill="#111">SD2FLT1.IEL</text>
<line x1="1958.6" y1="929" x2="2038" y2="929" stroke="#000" stroke-width="2"/>
<polygon points="2037,923.1 2048.5,928.8 2037,934.5" fill="#000" stroke="none" stroke-width="1"/>
<line x1="1771.4" y1="959" x2="1808.7" y2="959" stroke="#000" stroke-width="2"/>
<text transform="translate(1832.9 964.5) scale(0.9350 1)" font-size="17.39" fill="#111">SD2FLT2.IEH</text>
<line x1="1958.6" y1="959" x2="2038" y2="959" stroke="#000" stroke-width="2"/>
<polygon points="2037,953.2 2048.5,958.9 2037,964.6" fill="#000" stroke="none" stroke-width="1"/>
<line x1="1771.4" y1="989" x2="1808.7" y2="989" stroke="#000" stroke-width="2"/>
<text transform="translate(1835 994.7) scale(0.9271 1)" font-size="17.39" fill="#111">SD2FLT2.IEL</text>
<line x1="1958.6" y1="989" x2="2038" y2="989" stroke="#000" stroke-width="2"/>
<polygon points="2037,983.2 2048.5,988.9 2037,994.6" fill="#000" stroke="none" stroke-width="1"/>
<line x1="1771.4" y1="1026" x2="1808.7" y2="1026" stroke="#000" stroke-width="2"/>
<text transform="translate(1832.9 1031.9) scale(0.9350 1)" font-size="17.39" fill="#111">SD2FLT3.IEH</text>
<line x1="1958.6" y1="1026" x2="2038" y2="1026" stroke="#000" stroke-width="2"/>
<polygon points="2037,1020.6 2048.5,1026.3 2037,1032" fill="#000" stroke="none" stroke-width="1"/>
<line x1="1771.4" y1="1056" x2="1808.7" y2="1056" stroke="#000" stroke-width="2"/>
<text transform="translate(1835 1062.1) scale(0.9271 1)" font-size="17.39" fill="#111">SD2FLT3.IEL</text>
<line x1="1958.6" y1="1056" x2="2038" y2="1056" stroke="#000" stroke-width="2"/>
<polygon points="2037,1050.6 2048.5,1056.3 2037,1062" fill="#000" stroke="none" stroke-width="1"/>
<line x1="1771.4" y1="1086" x2="1808.7" y2="1086" stroke="#000" stroke-width="2"/>
<text transform="translate(1832.9 1092) scale(0.9350 1)" font-size="17.39" fill="#111">SD2FLT4.IEH</text>
<line x1="1958.6" y1="1086" x2="2038" y2="1086" stroke="#000" stroke-width="2"/>
<polygon points="2037,1080.7 2048.5,1086.4 2037,1092.1" fill="#000" stroke="none" stroke-width="1"/>
<line x1="1771.4" y1="1116" x2="1808.7" y2="1116" stroke="#000" stroke-width="2"/>
<text transform="translate(1835 1121.9) scale(0.9271 1)" font-size="17.39" fill="#111">SD2FLT4.IEL</text>
<line x1="1958.6" y1="1116" x2="2038" y2="1116" stroke="#000" stroke-width="2"/>
<polygon points="2037,1110.4 2048.5,1116.1 2037,1121.8" fill="#000" stroke="none" stroke-width="1"/>
</svg>
</body></html>
